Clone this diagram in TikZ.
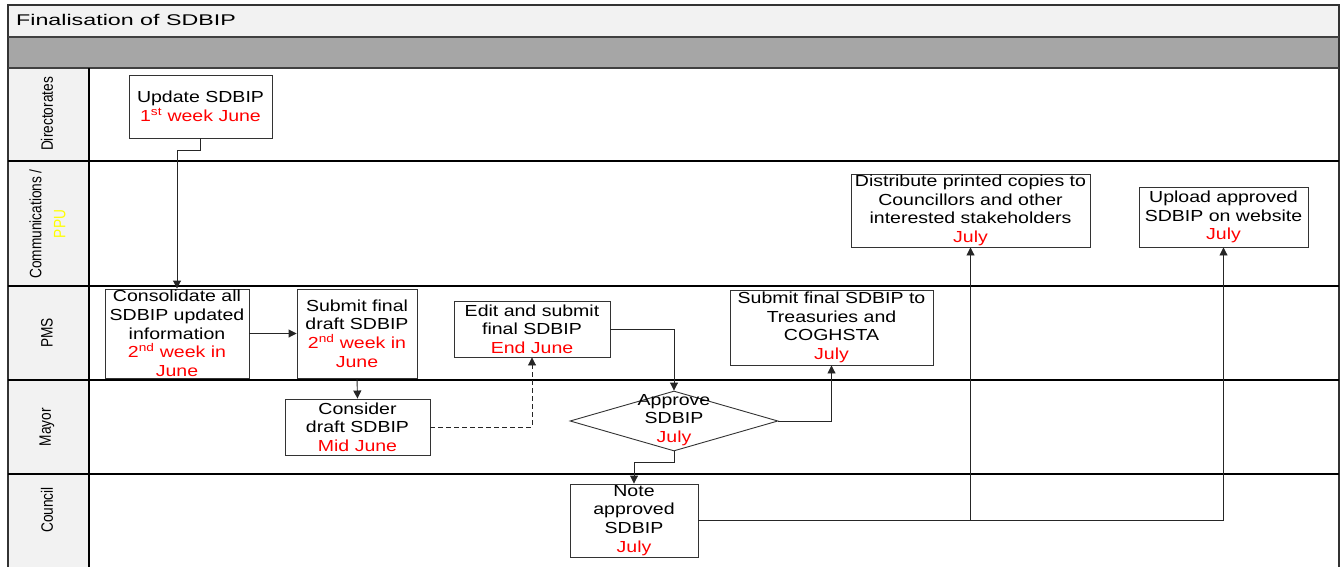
\documentclass[tikz,border=0pt]{standalone}
\usepackage{fontspec}
\setmainfont{Liberation Sans}[FakeStretch=1.22]
\newfontfamily\condf{Liberation Sans}[FakeStretch=0.83]
\newfontfamily\titlef{Liberation Sans}[FakeStretch=1.5]
\usetikzlibrary{arrows.meta,shapes.geometric}
\definecolor{lanefill}{HTML}{F2F2F2}
\definecolor{bandgrey}{HTML}{A6A6A6}
\definecolor{ppu}{HTML}{FFFF00}
\definecolor{linegrey}{HTML}{333333}
\newcommand\redtxt[1]{{\color{red}#1}}
\begin{document}
\begin{tikzpicture}[x=1pt,y=-1pt,
  task/.style={draw=linegrey, line width=0.9pt, fill=white, inner sep=0pt, align=center,
    font=\fontsize{16}{18.7}\selectfont},
  lanelabel/.style={rotate=90, align=center, font=\condf\fontsize{16.5}{24}\selectfont},
  laneline/.style={draw=black, line width=1.1pt},
  flow/.style={draw=black!85, line width=0.9pt, -{Triangle[length=8pt,width=8pt]}},
  dflow/.style={flow, dash pattern=on 5pt off 3pt}
]
\useasboundingbox (0,0) rectangle (1344,567);
% frame and bands
\fill[lanefill] (8,5) rectangle (1339,37);
\fill[bandgrey] (8,37) rectangle (1339,68);
\fill[lanefill] (8,68) rectangle (89,567);
\draw[draw=black!80, line width=1.2pt] (8,567) -- (8,5) -- (1339,5) -- (1339,567);
\draw[draw=black!75, line width=1.2pt] (8,37) -- (1339,37);
\draw[draw=black!75, line width=1.2pt] (8,68) -- (1339,68);
\draw[laneline] (89,68) -- (89,567);
\foreach \yy in {161,286,380,474} \draw[laneline] (8,\yy) -- (1339,\yy);
\node[anchor=base west, inner sep=0pt, font=\titlef\fontsize{15.5}{18}\selectfont] (title) at (16,26) {Finalisation of SDBIP};
% lane labels
\node[lanelabel] (lDir) at (47,114) {Directorates};
\node[lanelabel] (lCom) at (47.5,224) {Communications /\\\textcolor{ppu}{PPU}};
\node[lanelabel] (lPMS) at (47,333) {PMS};
\node[lanelabel] (lMay) at (47,427) {Mayor};
\node[lanelabel] (lCou) at (47,510) {Council};
% tasks
\node[task, minimum width=143pt, minimum height=63pt] (upd) at (200.5,106.5) {Update SDBIP\\\redtxt{1\textsuperscript{st} week June}};
\node[task, minimum width=144pt, minimum height=89pt] (cons) at (177,333.5) {Consolidate all\\SDBIP updated\\information\\\redtxt{2\textsuperscript{nd} week in}\\\redtxt{June}};
\node[task, minimum width=120pt, minimum height=89pt] (sfd) at (357,333.5) {Submit final\\draft SDBIP\\\redtxt{2\textsuperscript{nd} week in}\\\redtxt{June}};
\node[task, minimum width=145pt, minimum height=56pt] (cdr) at (357.5,427) {Consider\\draft SDBIP\\\redtxt{Mid June}};
\node[task, minimum width=156pt, minimum height=56pt] (edit) at (532,329) {Edit and submit\\final SDBIP\\\redtxt{End June}};
\node[diamond, draw=linegrey, line width=0.9pt, fill=white, inner sep=0pt, minimum width=208pt, minimum height=60pt] (appr) at (674,421) {};
\node[align=center, inner sep=0pt, font=\fontsize{16}{18.7}\selectfont] (apprtxt) at (674,420) {Approve\\SDBIP\\\redtxt{July}};
\node[task, minimum width=203pt, minimum height=75pt] (treas) at (831.5,327.5) {Submit final SDBIP to\\Treasuries and\\COGHSTA\\\redtxt{July}};
\node[task, minimum width=128pt, minimum height=73pt] (note) at (634,520.5) {Note\\approved\\SDBIP\\\redtxt{July}};
\node[task, minimum width=239pt, minimum height=73pt] (dist) at (970.5,210.5) {Distribute printed copies to\\Councillors and other\\interested stakeholders\\\redtxt{July}};
\node[task, minimum width=169pt, minimum height=60pt] (upl) at (1223.5,217) {Upload approved\\SDBIP on website\\\redtxt{July}};
% connectors
\draw[flow] (upd.south) -- ++(0,12) -| (cons.north);
\draw[flow] (cons.east) -- (sfd.west);
\draw[flow] (sfd.south) -- (cdr.north);
\draw[dflow] (cdr.east) -| (edit.south);
\draw[flow] (edit.east) -| (appr.north);
\draw[flow] (appr.east) -| (treas.south);
\draw[flow] (appr.south) -- ++(0,11) -| (note.north);
\draw[flow] (note.east) -| (dist.south);
\draw[flow] (note.east) -| (upl.south);
\end{tikzpicture}
\end{document}
